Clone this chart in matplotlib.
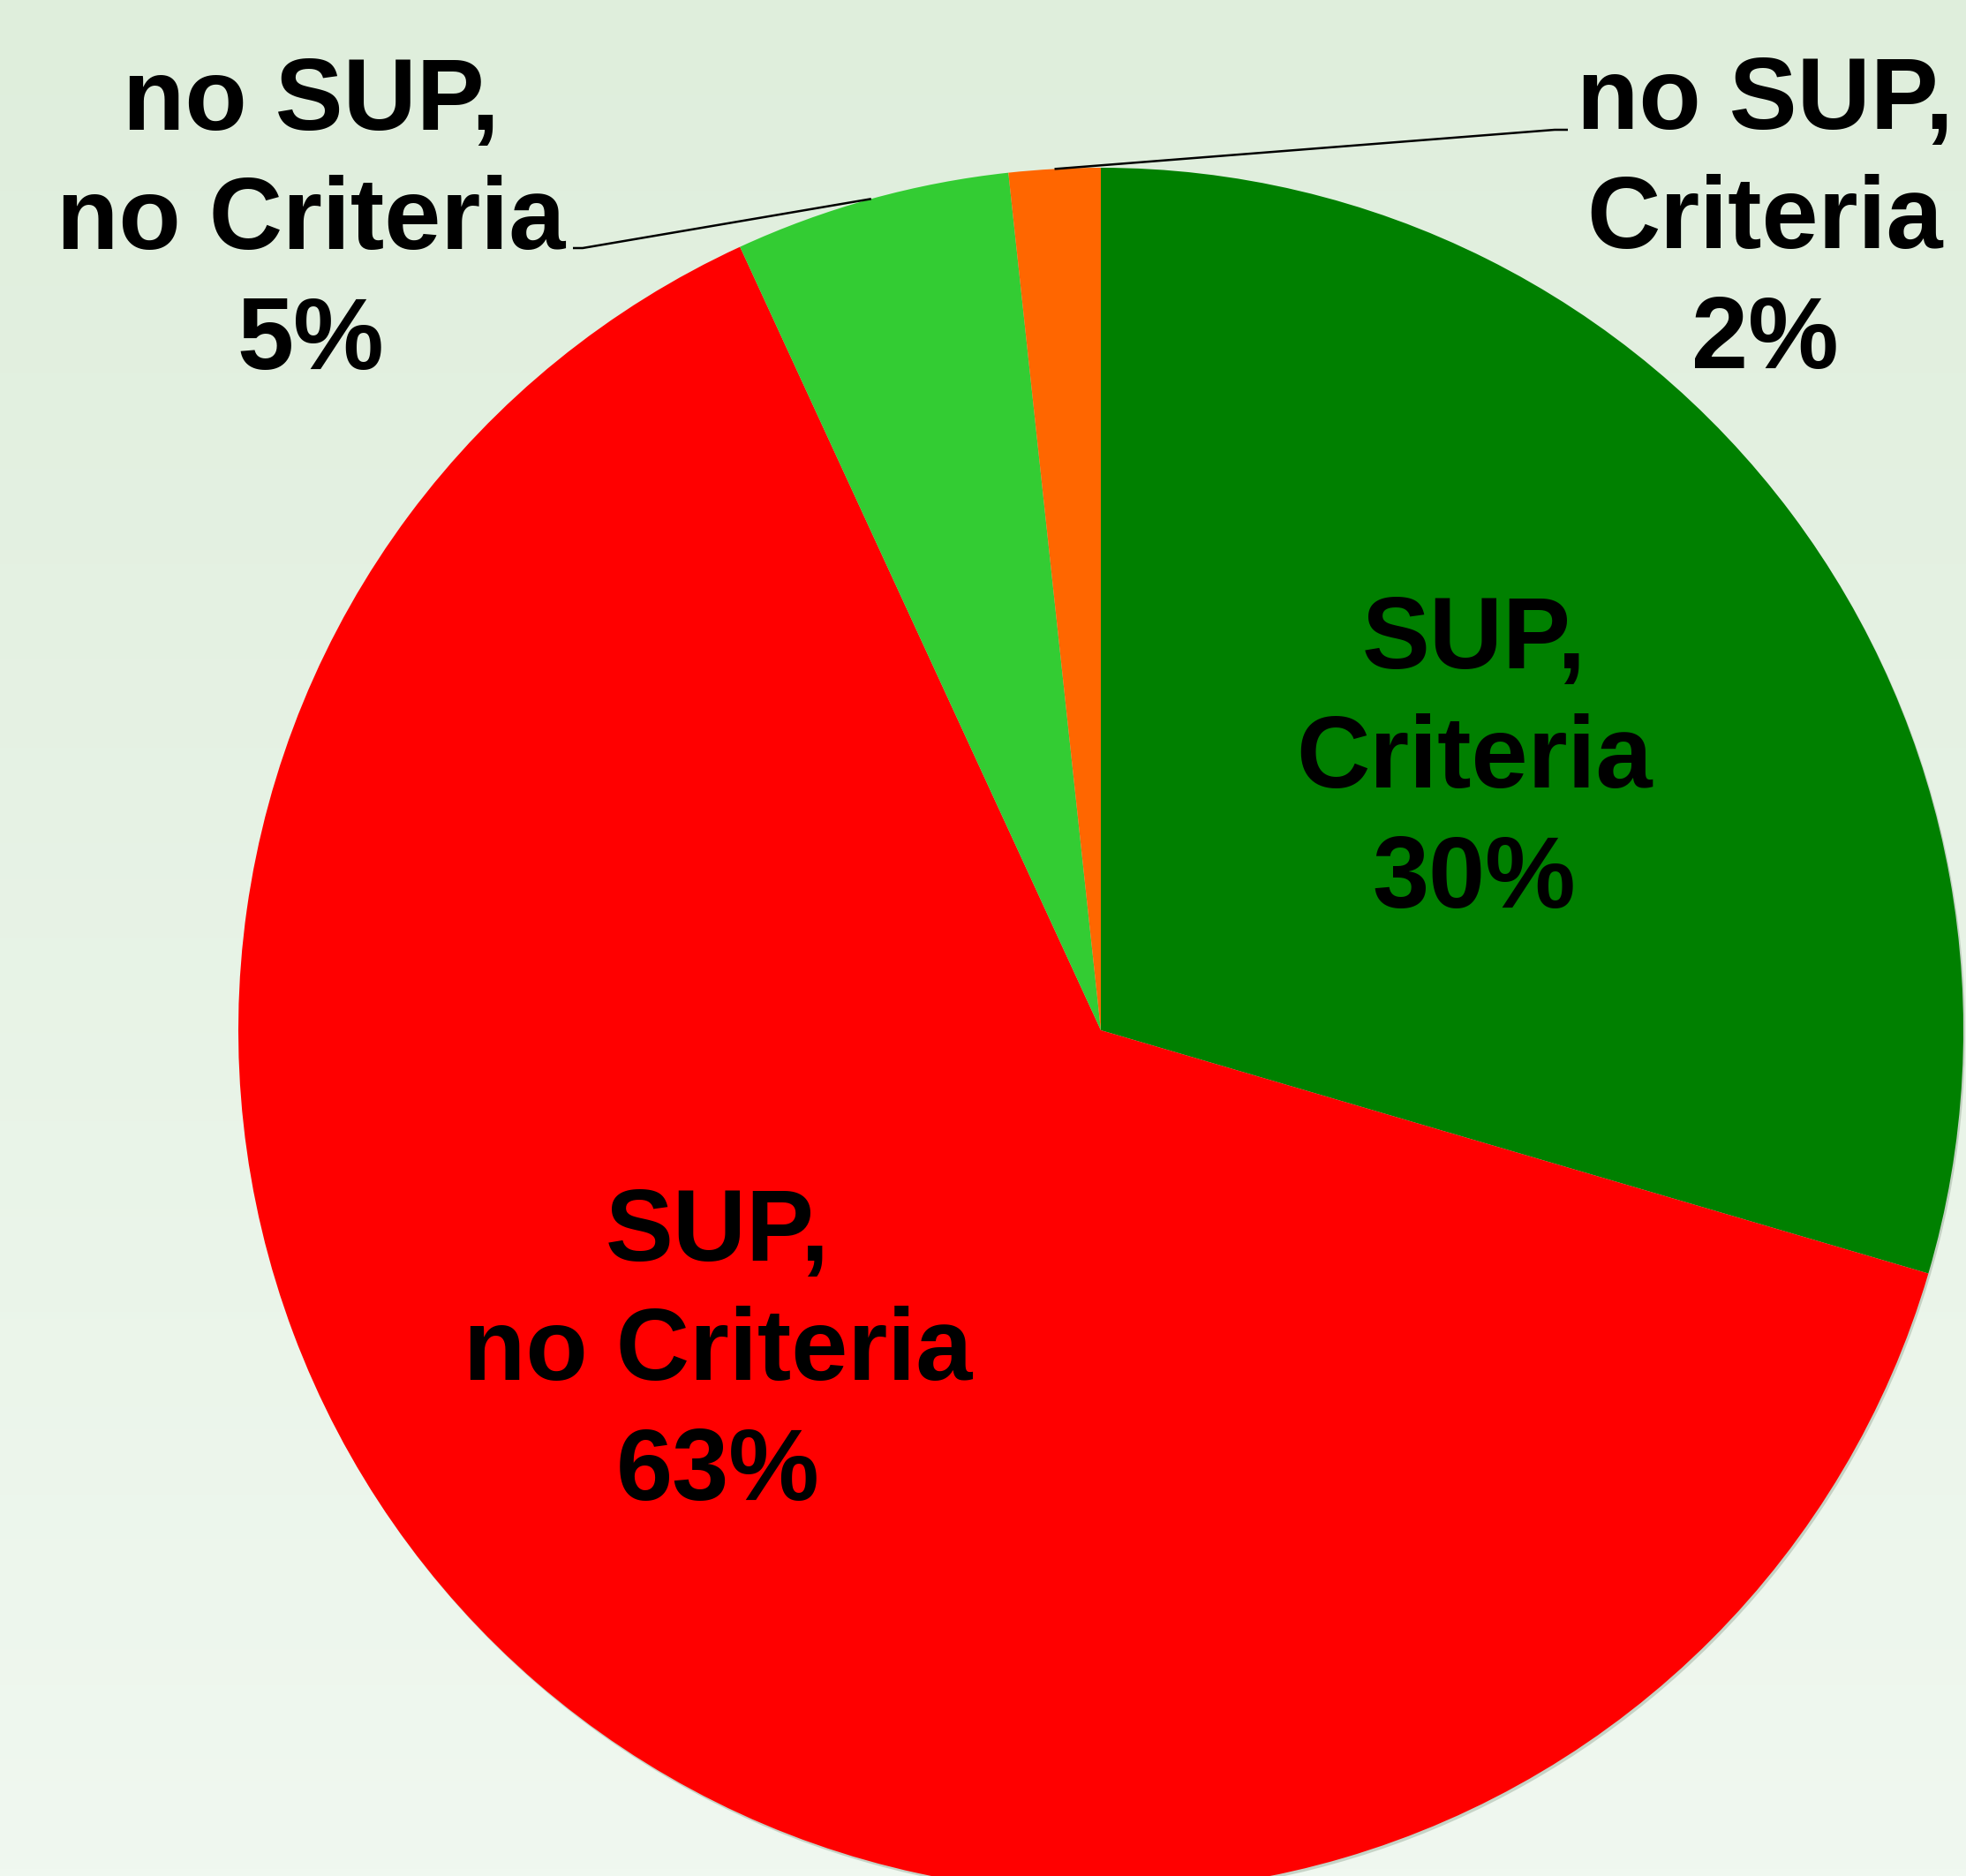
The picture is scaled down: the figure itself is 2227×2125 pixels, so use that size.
import matplotlib.pyplot as plt
import numpy as np
from matplotlib.colors import LinearSegmentedColormap

# slice values (percent)
categories = ["SUP,\nCriteria", "SUP,\nno Criteria", "no SUP,\nno Criteria", "no SUP,\nCriteria"]
values = [29.55, 63.58, 5.16, 1.71]
pct_labels = ["30%", "63%", "5%", "2%"]
colors = ["#008000", "#ff0000", "#33cc33", "#ff6600"]

W, H = 2227, 2125
cx, cy, rad = 1247, H - 1167, 977

# label anchor (x, last-line baseline y from top) in pixels
label_pos = [(1670, 1028), (813, 1699), (352, 418), (1999, 417)]
# leader line elbows for the two small slices (from top), None = inside label
elbows = [None, None, (660, 281, -11), (1761, 147, 15)]


def main():
    fig = plt.figure(figsize=(W / 100, H / 100), dpi=100)
    ax = fig.add_axes([0, 0, 1, 1])

    # background gradient
    cmap = LinearSegmentedColormap.from_list("bg", ["#f0f8f0", "#dfeedc"])
    grad = np.linspace(0, 1, 256).reshape(-1, 1)
    ax.imshow(grad, extent=(0, W, 0, H), origin="lower", cmap=cmap,
              aspect="auto", zorder=0)

    # faint shadow rim
    shadow = plt.Circle((cx + 2, cy - 3), rad, color="#9fb09f", alpha=0.5,
                        zorder=1, lw=0)
    ax.add_patch(shadow)

    wedges, _ = ax.pie(values, colors=colors, startangle=90, counterclock=False,
                       center=(cx, cy), radius=rad, frame=True,
                       wedgeprops=dict(linewidth=0, zorder=2))
    for w in wedges:
        w.set_zorder(2)

    for i, w in enumerate(wedges):
        x, y = label_pos[i]
        ax.text(x, H - y, categories[i] + "\n" + pct_labels[i], ha="center",
                va="baseline", fontsize=83, fontweight="bold",
                family="Liberation Sans", color="black", linespacing=1.33,
                zorder=5)
        if elbows[i] is not None:
            ang = np.deg2rad((w.theta1 + w.theta2) / 2)
            sx, sy = cx + rad * np.cos(ang), cy + rad * np.sin(ang)
            ex, ey, stub = elbows[i]
            ax.plot([sx, ex, ex + stub], [sy, H - ey, H - ey], color="black",
                    lw=1.8, solid_capstyle="butt", zorder=4)

    ax.set_xlim(0, W)
    ax.set_ylim(0, H)
    ax.set_aspect("equal")
    ax.axis("off")

    fig.savefig("out.png", dpi=100)


if __name__ == "__main__":
    main()
